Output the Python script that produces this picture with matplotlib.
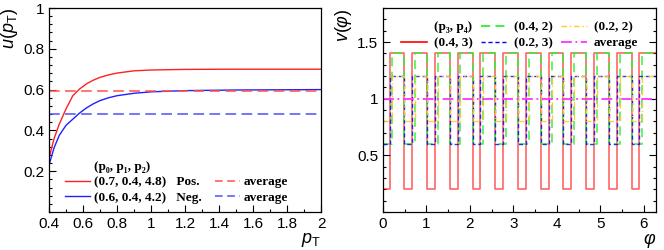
import numpy as np
import matplotlib
matplotlib.use("Agg")
import matplotlib.pyplot as plt
from matplotlib.lines import Line2D
from matplotlib.ticker import MultipleLocator, FormatStrFormatter

plt.rcParams['font.family'] = ['Liberation Sans', 'DejaVu Sans']
plt.rcParams['mathtext.fontset'] = 'custom'
plt.rcParams['mathtext.rm'] = 'Liberation Sans'
plt.rcParams['mathtext.it'] = 'Liberation Sans:italic'

# Panel izquierdo: u(pT)
pt_red = [0.40, 0.43, 0.46, 0.50, 0.54, 0.58, 0.62, 0.66, 0.70, 0.75, 0.80, 0.90, 1.00, 1.20, 1.50, 2.00]
u_red = [0.265, 0.36, 0.43, 0.505, 0.57, 0.603, 0.628, 0.646, 0.660, 0.672, 0.681, 0.692, 0.696, 0.699, 0.700, 0.700]
pt_blue = [0.40, 0.43, 0.46, 0.50, 0.54, 0.58, 0.62, 0.66, 0.70, 0.75, 0.80, 0.90, 1.00, 1.20, 1.50, 2.00]
u_blue = [0.230, 0.315, 0.375, 0.425, 0.455, 0.485, 0.510, 0.530, 0.546, 0.560, 0.570, 0.582, 0.589, 0.595, 0.598, 0.600]
avg_red = 0.592
avg_blue = 0.480

# Panel derecho: flancos de las funciones escalon
rise_p3 = [0.15, 0.67, 1.19, 1.72, 2.24, 2.76, 3.29, 3.81, 4.33, 4.86, 5.38, 5.90]
fall_all = [0.49, 1.01, 1.54, 2.06, 2.58, 3.11, 3.63, 4.15, 4.68, 5.20, 5.73]
rise_p2 = [0.21, 0.74, 1.26, 1.78, 2.31, 2.83, 3.35, 3.88, 4.40, 4.92, 5.45, 5.97]
lev_red = (0.2, 1.4)
lev_green = (0.6, 1.4)
lev_blue = (0.6, 1.2)
lev_yellow = (0.8, 1.2)
avg_v = 1.0


def escalon(rises, falls, lev):
    xs = [0.0]
    ys = [lev[0]]
    for i in range(len(rises)):
        xs.append(rises[i]); ys.append(lev[1])
        if i < len(falls):
            xs.append(falls[i]); ys.append(lev[0])
    xs.append(2 * np.pi); ys.append(ys[-1])
    return xs, ys


fig = plt.figure(figsize=(6.64, 2.5), dpi=100)
ax1 = fig.add_axes([49/664, 38/250, 272/664, 204/250])
ax2 = fig.add_axes([383/664, 38/250, 273/664, 204/250])

for ax in (ax1, ax2):
    ax.tick_params(which='both', direction='in', labelsize=11, width=0.8)
    ax.tick_params(which='major', length=5)
    ax.tick_params(which='minor', length=2.5)
    for s in ax.spines.values():
        s.set_linewidth(0.9)

leg_font = {'family': 'Liberation Serif', 'weight': 'bold', 'size': 9.5}

# ---- izquierdo
ax1.plot(pt_red, u_red, color='#ff2020', lw=1.0)
ax1.plot(pt_blue, u_blue, color='#2020ff', lw=1.0)
ax1.axhline(avg_red, color='#ff5050', lw=1.1, dashes=(7, 3.5))
ax1.axhline(avg_blue, color='#5050ff', lw=1.1, dashes=(7, 3.5))
ax1.set_xlim(0.4, 2)
ax1.set_ylim(0, 1)
ax1.set_yticks([0.2, 0.4, 0.6, 0.8, 1.0])
ax1.xaxis.set_major_locator(MultipleLocator(0.2))
ax1.xaxis.set_minor_locator(MultipleLocator(0.1))
ax1.yaxis.set_minor_locator(MultipleLocator(0.04))
ax1.xaxis.set_major_formatter(FormatStrFormatter('%g'))
ax1.yaxis.set_major_formatter(FormatStrFormatter('%g'))
ax1.set_ylabel(r'$u(p_{\rm T})$', loc='top', fontsize=13, labelpad=2)
ax1.set_xlabel(r'$p_{\rm T}$', loc='right', fontsize=13, labelpad=0)

h_empty = Line2D([], [], color='none')
h1 = [h_empty,
      Line2D([], [], color='#ff2020', lw=1.0),
      Line2D([], [], color='#2020ff', lw=1.0),
      h_empty,
      Line2D([], [], color='#ff5050', lw=1.1, dashes=(5, 3)),
      Line2D([], [], color='#5050ff', lw=1.1, dashes=(5, 3))]
l1 = ['(p\u2080, p\u2081, p\u2082)', '(0.7, 0.4, 4.8)   Pos.', '(0.6, 0.4, 4.2)   Neg.', ' ', 'average', 'average']
ax1.legend(h1, l1, ncol=2, loc='lower left', bbox_to_anchor=(16/272, 8/204), frameon=False,
           prop=leg_font, handlelength=1.9, handletextpad=0.3, columnspacing=1.0,
           labelspacing=0.25, borderaxespad=0, borderpad=0)

# ---- derecho
xr, yr = escalon(rise_p3, fall_all, lev_red)
xg, yg = escalon(rise_p2, fall_all, lev_green)
xb, yb = escalon(rise_p3, fall_all, lev_blue)
xy, yy = escalon(rise_p2, fall_all, lev_yellow)
ax2.plot(xr, yr, drawstyle='steps-post', color='#ff0000', alpha=0.6, lw=1.2)
ax2.plot(xg, yg, drawstyle='steps-post', color='#33ee33', alpha=0.8, lw=1.3, dashes=(5, 3))
ax2.plot(xb, yb, drawstyle='steps-post', color='#0000ff', alpha=0.8, lw=1.0, dashes=(3, 2))
ax2.plot(xy, yy, drawstyle='steps-post', color='#ffcc22', alpha=0.9, lw=1.0, dashes=(4, 2, 1, 2))
ax2.axhline(avg_v, color='#ff33ff', lw=1.3, dashes=(6, 2, 1, 2))
ax2.set_xlim(0, 2 * np.pi)
ax2.set_ylim(0, 1.8)
ax2.xaxis.set_major_locator(MultipleLocator(1))
ax2.xaxis.set_minor_locator(MultipleLocator(0.5))
ax2.set_yticks([0.5, 1.0, 1.5])
ax2.yaxis.set_minor_locator(MultipleLocator(0.1))
ax2.yaxis.set_major_formatter(FormatStrFormatter('%g'))
ax2.tick_params(which='both', right=True)
ax2.set_ylabel(r'$v(\varphi)$', loc='top', fontsize=13, labelpad=2)
ax2.set_xlabel(r'$\varphi$', loc='right', fontsize=13, labelpad=0)

h2 = [h_empty,
      Line2D([], [], color='#ff0000', lw=1.2),
      Line2D([], [], color='#33ee33', lw=1.3, dashes=(5, 3)),
      Line2D([], [], color='#0000ff', lw=1.0, dashes=(3, 2)),
      Line2D([], [], color='#ffcc22', lw=1.0, dashes=(4, 2, 1, 2)),
      Line2D([], [], color='#ff33ff', lw=1.3, dashes=(6, 2, 1, 2))]
l2 = ['(p\u2083, p\u2084)', '(0.4, 3)', '(0.4, 2)', '(0.2, 3)', '(0.2, 2)', 'average']
ax2.legend(h2, l2, ncol=3, loc='upper right', bbox_to_anchor=(1 - 18/273, 1 - 13/204), frameon=False,
           prop=leg_font, handlelength=2.0, handletextpad=0.5, columnspacing=0.6,
           labelspacing=0.3, borderaxespad=0, borderpad=0)

plt.savefig('out.png', dpi=100)
